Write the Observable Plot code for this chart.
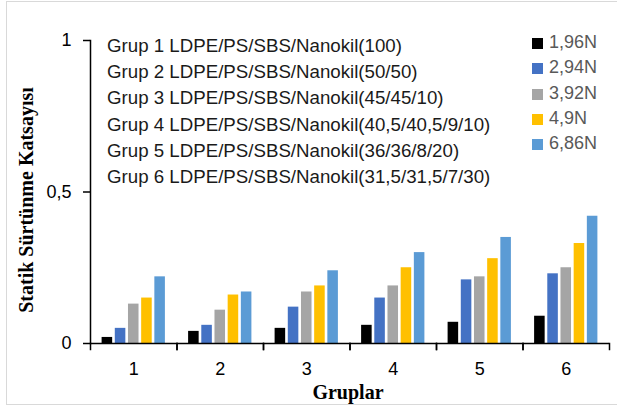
<!DOCTYPE html>
<html>
<head>
<meta charset="utf-8">
<script src="https://cdn.jsdelivr.net/npm/d3@7"></script>
<script src="https://cdn.jsdelivr.net/npm/@observablehq/plot@0.6"></script>
<style>
  html, body { margin: 0; padding: 0; background: #fff; }
  #chart { position: relative; width: 617px; height: 408px; overflow: hidden; font-family: "Liberation Sans", Arial, sans-serif; }
  #chart svg { position: absolute; left: 0; top: 0; z-index: 2; }
  .border { position: absolute; left: 6px; top: 1px; width: 620px; height: 404px; border: 1.5px solid #d9d9d9; box-sizing: border-box; z-index: 0; }
  .groups { position: absolute; left: 107px; top: 33px; font-size: 18.7px; line-height: 26.2px; color: #1a1a1a; white-space: nowrap; z-index: 1; }
  .loads { position: absolute; left: 532px; top: 30px; font-size: 18px; line-height: 25.3px; color: #595959; white-space: nowrap; z-index: 1; }
  .loads .sw { display: inline-block; width: 11px; height: 11px; margin-right: 6px; vertical-align: -1px; }
  .ytitle { position: absolute; left: 25.5px; top: 200px; transform: translate(-50%, -50%) rotate(-90deg); font: bold 20px "Liberation Serif", "Times New Roman", serif; white-space: nowrap; color: #000; z-index: 1; }
  .xtitle { position: absolute; left: 348px; top: 392px; transform: translate(-50%, -50%); font: bold 20px "Liberation Serif", "Times New Roman", serif; color: #000; z-index: 1; }
</style>
</head>
<body>
<div id="chart"></div>
<script>
// Groups on the x axis and the applied normal loads
const groups = ["1", "2", "3", "4", "5", "6"];
const loads = ["1,96N", "2,94N", "3,92N", "4,9N", "6,86N"];
const colors = ["#000000", "#4472C4", "#A5A5A5", "#FFC000", "#5B9BD5"];

// Static friction coefficient per group, one array per load
const v196 = [0.02, 0.04, 0.05, 0.06, 0.07, 0.09];
const v294 = [0.05, 0.06, 0.12, 0.15, 0.21, 0.23];
const v392 = [0.13, 0.11, 0.17, 0.19, 0.22, 0.25];
const v49  = [0.15, 0.16, 0.19, 0.25, 0.28, 0.33];
const v686 = [0.22, 0.17, 0.24, 0.30, 0.35, 0.42];

const groupNames = [
  "Grup 1 LDPE/PS/SBS/Nanokil(100)",
  "Grup 2 LDPE/PS/SBS/Nanokil(50/50)",
  "Grup 3 LDPE/PS/SBS/Nanokil(45/45/10)",
  "Grup 4 LDPE/PS/SBS/Nanokil(40,5/40,5/9/10)",
  "Grup 5 LDPE/PS/SBS/Nanokil(36/36/8/20)",
  "Grup 6 LDPE/PS/SBS/Nanokil(31,5/31,5/7/30)"
];

const yTicks = [0, 0.5, 1];
const yTitle = "Statik Sürtünme Katsayısı";
const xTitle = "Gruplar";

const series = [v196, v294, v392, v49, v686];
const data = [];
groups.forEach((g, i) => loads.forEach((l, j) => data.push({group: g, load: l, value: series[j][i]})));

const W = 617, H = 408, mTop = 40, mBottom = 65, mLeft = 90, mRight = 8;
const plotH = H - mTop - mBottom;
const fmt = d => String(d).replace(".", ",");

const plot = Plot.plot({
  width: W,
  height: H,
  marginTop: mTop,
  marginBottom: mBottom,
  marginLeft: mLeft,
  marginRight: mRight,
  style: {fontFamily: "Liberation Sans, Arial, sans-serif", fontSize: "18px", color: "#000", background: "transparent"},
  fx: {domain: groups, padding: 0, round: false},
  x: {domain: loads, paddingInner: 0.2, paddingOuter: 0.88, round: false, axis: null},
  y: {domain: [0, 1]},
  color: {domain: loads, range: colors},
  marks: [
    Plot.barY(data, {fx: "group", x: "load", y: "value", fill: "load"}),
    Plot.ruleY([0], {stroke: "#000", strokeWidth: 1.5}),
    // category boundary ticks below the baseline
    Plot.frame({anchor: "left", insetTop: plotH, insetBottom: -6, stroke: "#000", strokeWidth: 1.5}),
    Plot.frame({anchor: "right", insetTop: plotH, insetBottom: -6, stroke: "#000", strokeWidth: 1.5}),
    // value axis line
    Plot.frame({anchor: "left", facetAnchor: "left", stroke: "#000", strokeWidth: 1.5}),
    Plot.axisY({ticks: yTicks, tickSize: 7, tickPadding: 12, tickFormat: fmt, label: null, strokeWidth: 1.5, fontSize: 18}),
    Plot.axisFx({anchor: "bottom", tickSize: 0, tickPadding: 19, label: null, fontSize: 18})
  ]
});

const chart = document.getElementById("chart");
const border = document.createElement("div");
border.className = "border";
chart.appendChild(border);

const gl = document.createElement("div");
gl.className = "groups";
gl.innerHTML = groupNames.map(t => `<div>${t}</div>`).join("");
chart.appendChild(gl);

const ll = document.createElement("div");
ll.className = "loads";
ll.innerHTML = loads.map((l, j) => `<div><span class="sw" style="background:${colors[j]}"></span>${l}</div>`).join("");
chart.appendChild(ll);

const yt = document.createElement("div");
yt.className = "ytitle";
yt.textContent = yTitle;
chart.appendChild(yt);

const xt = document.createElement("div");
xt.className = "xtitle";
xt.textContent = xTitle;
chart.appendChild(xt);

chart.appendChild(plot);
</script>
</body>
</html>
